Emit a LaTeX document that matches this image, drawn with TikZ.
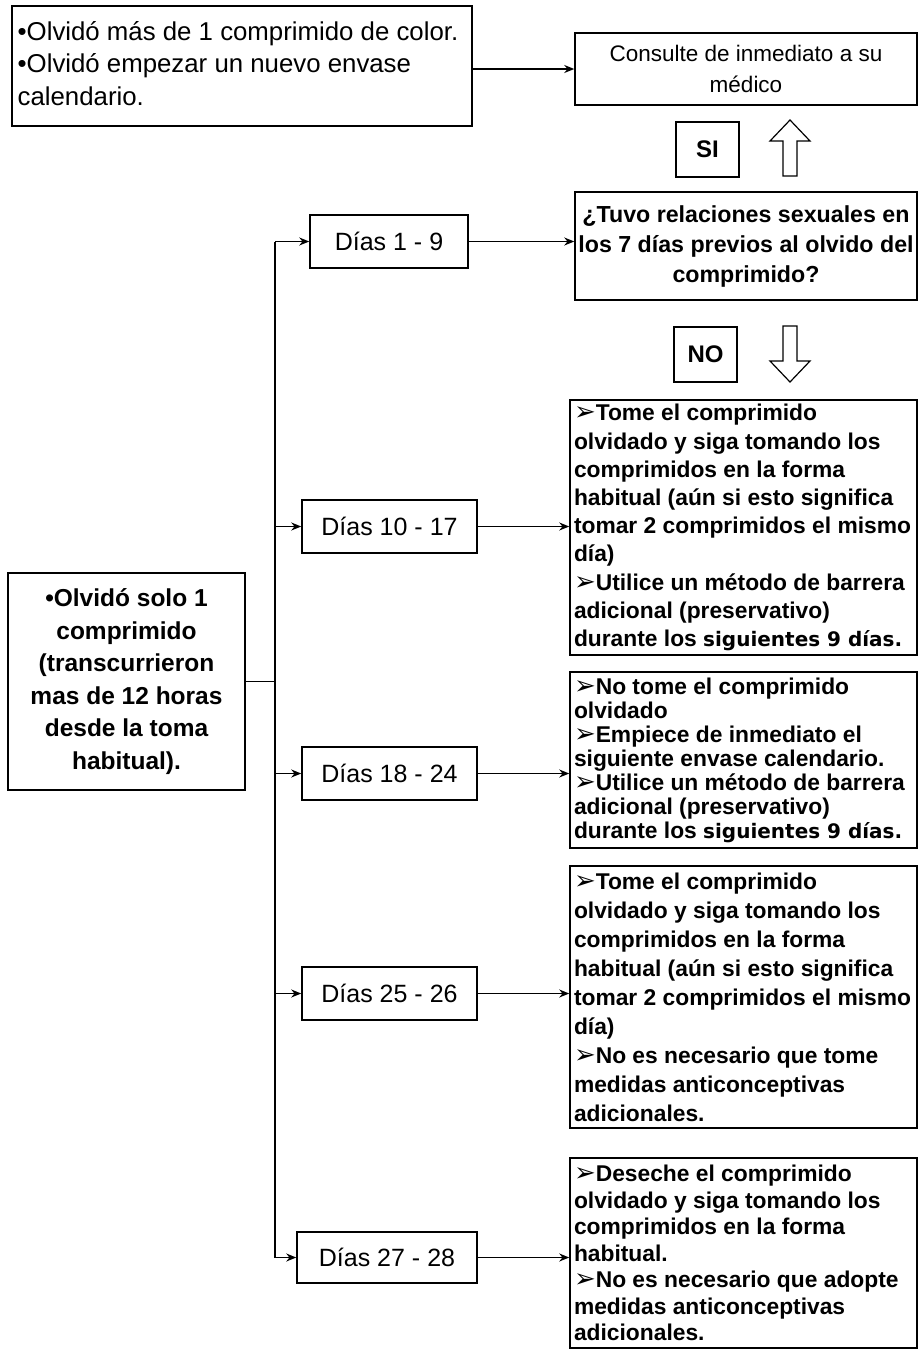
\documentclass[tikz,border=0pt]{standalone}
\usepackage{fontspec}
\setmainfont{Liberation Sans}
\newfontfamily\dejavu{DejaVu Sans}
\usetikzlibrary{arrows.meta}
\newcommand{\bul}{{\dejavu\fontsize{26}{20}\selectfont\char"27A2}}
\newcommand{\heavy}[1]{{\fontspec{DejaVu Sans Bold}\fontsize{20}{20}\selectfont #1}}
\newcommand{\wideline}[1]{\makebox[339pt][l]{#1}}
\begin{document}
\begin{tikzpicture}[x=1pt,y=-1pt,
  box/.style={draw,line width=1.5pt,inner sep=0pt},
  rbox/.style={box,minimum width=347,align=left},
  dbox/.style={box,minimum height=53,font=\fontsize{25}{28}\selectfont},
  conn/.style={line width=1.5pt},
  arr/.style={conn,-{Stealth[length=10pt,width=8pt]}},
  hollow/.style={draw,line width=1.2pt,fill=white}]
\useasboundingbox (0,0) rectangle (919,1358);
% top
\node[box,minimum width=460,minimum height=120,align=left,
  font=\fontsize{25.8}{32.5}\selectfont] (A) at (242,66)
  {\strut•Olvidó más de 1 comprimido de color.\hspace*{8pt}\\\strut•Olvidó empezar un nuevo envase\\\strut calendario.};
\node[box,minimum width=342,minimum height=72,align=center,
  font=\fontsize{22.5}{31}\selectfont] (C) at (746,69)
  {Consulte de inmediato a su\\médico};
\draw[arr] (A.east |- C.west) -- (C.west);
\node[box,minimum width=63,minimum height=55,font=\fontsize{24}{24}\selectfont\bfseries] (SI) at (707.5,149.5) {SI};
\node[box,minimum width=342,minimum height=108,align=center,
  font=\fontsize{23.2}{30}\selectfont\bfseries] (Q) at (746,246)
  {¿Tuvo relaciones sexuales en\\los 7 días previos al olvido del\\comprimido?};
\node[box,minimum width=63,minimum height=55,font=\fontsize{24}{24}\selectfont\bfseries] (NO) at (705.5,354.5) {NO};
% hollow arrows
\draw[hollow] (783,176) -- (783,141) -- (770,141) -- (790,120) -- (810,141) -- (797,141) -- (797,176) -- cycle;
\draw[hollow] (783,326) -- (783,361) -- (770,361) -- (790,382) -- (810,361) -- (797,361) -- (797,326) -- cycle;
% right boxes
\node[rbox,minimum height=255,font=\fontsize{22.8}{28.2}\selectfont\bfseries] (R1) at (743.5,527.5)
  {\wideline{\bul Tome el comprimido}\\olvidado y siga tomando los\\comprimidos en la forma\\habitual (aún si esto significa\\tomar 2 comprimidos el mismo\\día)\\\bul Utilice un método de barrera\\adicional (preservativo)\\durante los \heavy{siguientes 9 días.}};
\node[rbox,minimum height=176,font=\fontsize{22.8}{24}\selectfont\bfseries] (R2) at (743.5,760)
  {\wideline{\bul No tome el comprimido}\\olvidado\\\bul Empiece de inmediato el\\siguiente envase calendario.\\\bul Utilice un método de barrera\\adicional (preservativo)\\durante los \heavy{siguientes 9 días.}};
\node[rbox,minimum height=262,font=\fontsize{22.8}{29}\selectfont\bfseries] (R3) at (743.5,997)
  {\wideline{\bul Tome el comprimido}\\olvidado y siga tomando los\\comprimidos en la forma\\habitual (aún si esto significa\\tomar 2 comprimidos el mismo\\día)\\\bul No es necesario que tome\\medidas anticonceptivas\\adicionales.};
\node[rbox,minimum height=190,font=\fontsize{22.8}{26.5}\selectfont\bfseries] (R4) at (743.5,1253)
  {\wideline{\bul Deseche el comprimido}\\olvidado y siga tomando los\\comprimidos en la forma\\habitual.\\\bul No es necesario que adopte\\medidas anticonceptivas\\adicionales.};
% left box
\node[box,minimum width=237,minimum height=217,align=center,
  font=\fontsize{24.5}{32.5}\selectfont\bfseries] (L) at (126.5,681.5)
  {•Olvidó solo 1\\comprimido\\(transcurrieron\\mas de 12 horas\\desde la toma\\habitual).};
% day boxes
\node[dbox,minimum width=158] (D1) at (389,241.5) {Días 1 - 9};
\node[dbox,minimum width=175] (D2) at (389.5,526.5) {Días 10 - 17};
\node[dbox,minimum width=175] (D3) at (389.5,773.5) {Días 18 - 24};
\node[dbox,minimum width=175] (D4) at (389.5,993.5) {Días 25 - 26};
\node[dbox,minimum width=180,minimum height=51] (D5) at (387,1257.5) {Días 27 - 28};
% trunk
\coordinate (tr) at (275,0);
\draw[conn] (tr |- D1) -- (tr |- D5);
\draw[conn] (L.east) -- (L.east -| tr);
\foreach \d/\r in {D1/Q,D2/R1,D3/R2,D4/R3,D5/R4}{
  \draw[arr] (tr |- \d) -- (\d.west);
  \draw[arr] (\d.east) -- (\d.east -| \r.west);
}
\end{tikzpicture}
\end{document}
